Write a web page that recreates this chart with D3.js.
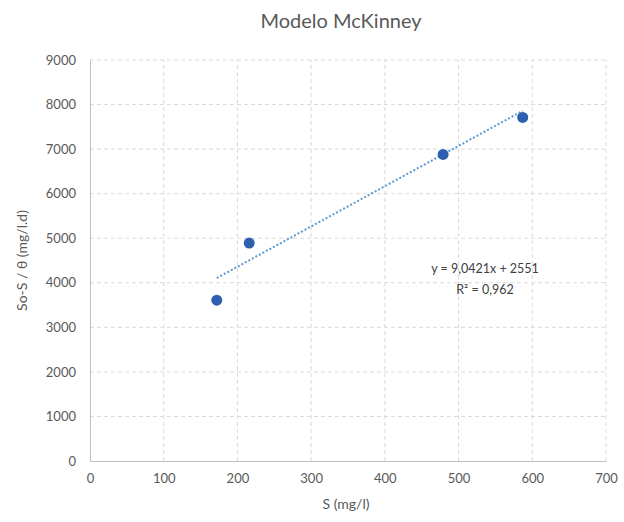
<!DOCTYPE html>
<html><head><meta charset="utf-8">
<script src="https://cdn.jsdelivr.net/npm/d3@7"></script>
<style>body{margin:0;background:#fff;} text{font-family:Lato,"Open Sans",sans-serif;}</style>
</head><body>
<svg id="c" width="624" height="522"></svg>
<script>
const sValues = [172, 216, 479, 587];
const rateValues = [3610, 4890, 6880, 7710];
const xTicks = [0,100,200,300,400,500,600,700];
const yTicks = [0,1000,2000,3000,4000,5000,6000,7000,8000,9000];
const trendSlope = 9.0421, trendIntercept = 2551;
const equationLabels = ["y = 9,0421x + 2551", "R² = 0,962"];
const titleText = "Modelo McKinney";
const xLabel = "S (mg/l)";
const yLabel = "So-S / θ (mg/l.d)";

const svg = d3.select("#c");
const m = {l:90, r:18, t:60, b:61};
const W = 624, H = 522;
const x = d3.scaleLinear().domain([0,700]).range([m.l, W-m.r]);
const y = d3.scaleLinear().domain([0,9000]).range([H-m.b, m.t]);

// gridlines
svg.append("g").selectAll("line").data(xTicks.slice(1)).join("line")
  .attr("x1",d=>x(d)).attr("x2",d=>x(d)).attr("y1",y(0)).attr("y2",y(9000))
  .attr("stroke","#d9d9d9").attr("stroke-dasharray","4,3");
svg.append("g").selectAll("line").data(yTicks.slice(1)).join("line")
  .attr("x1",x(0)).attr("x2",x(700)).attr("y1",d=>y(d)).attr("y2",d=>y(d))
  .attr("stroke","#d9d9d9").attr("stroke-dasharray","4,3");

const xAxis = svg.append("g").attr("transform",`translate(0,${y(0)})`)
  .call(d3.axisBottom(x).tickValues(xTicks).tickSize(0).tickPadding(13).tickFormat(d3.format("d")));
const yAxis = svg.append("g").attr("transform",`translate(${x(0)},0)`)
  .call(d3.axisLeft(y).tickValues(yTicks).tickSize(0).tickPadding(14).tickFormat(d3.format("d")));
[xAxis,yAxis].forEach(a=>{
  a.select(".domain").attr("stroke","#bfbfbf");
  a.selectAll("text").attr("fill","#595959").style("font-size","13px").style("font-family","Lato,'Open Sans',sans-serif");
});

// trendline
const x0 = d3.min(sValues), x1 = d3.max(sValues);
svg.append("line")
  .attr("x1",x(x0)).attr("y1",y(trendSlope*x0+trendIntercept))
  .attr("x2",x(x1)).attr("y2",y(trendSlope*x1+trendIntercept))
  .attr("stroke","#5b9bd5").attr("stroke-width",2).attr("stroke-dasharray","2,2");

// points
svg.append("g").selectAll("circle").data(sValues).join("circle")
  .attr("cx",d=>x(d)).attr("cy",(d,i)=>y(rateValues[i])).attr("r",5.5)
  .attr("fill","#2f5fae");

// equation
svg.append("g").selectAll("text").data(equationLabels).join("text")
  .attr("x",485).attr("y",(d,i)=>273+i*21).attr("text-anchor","middle")
  .attr("fill","#404040").style("font-size","12.5px").text(d=>d);

svg.append("text").attr("x",341).attr("y",28).attr("text-anchor","middle")
  .attr("fill","#595959").style("font-size","20px").text(titleText);
svg.append("text").attr("x",346).attr("y",509).attr("text-anchor","middle")
  .attr("fill","#595959").style("font-size","14px").text(xLabel);
svg.append("text").attr("transform",`translate(27,${(y(0)+y(9000))/2}) rotate(-90)`)
  .attr("text-anchor","middle").attr("fill","#595959").style("font-size","14px").text(yLabel);
</script>
</body></html>
